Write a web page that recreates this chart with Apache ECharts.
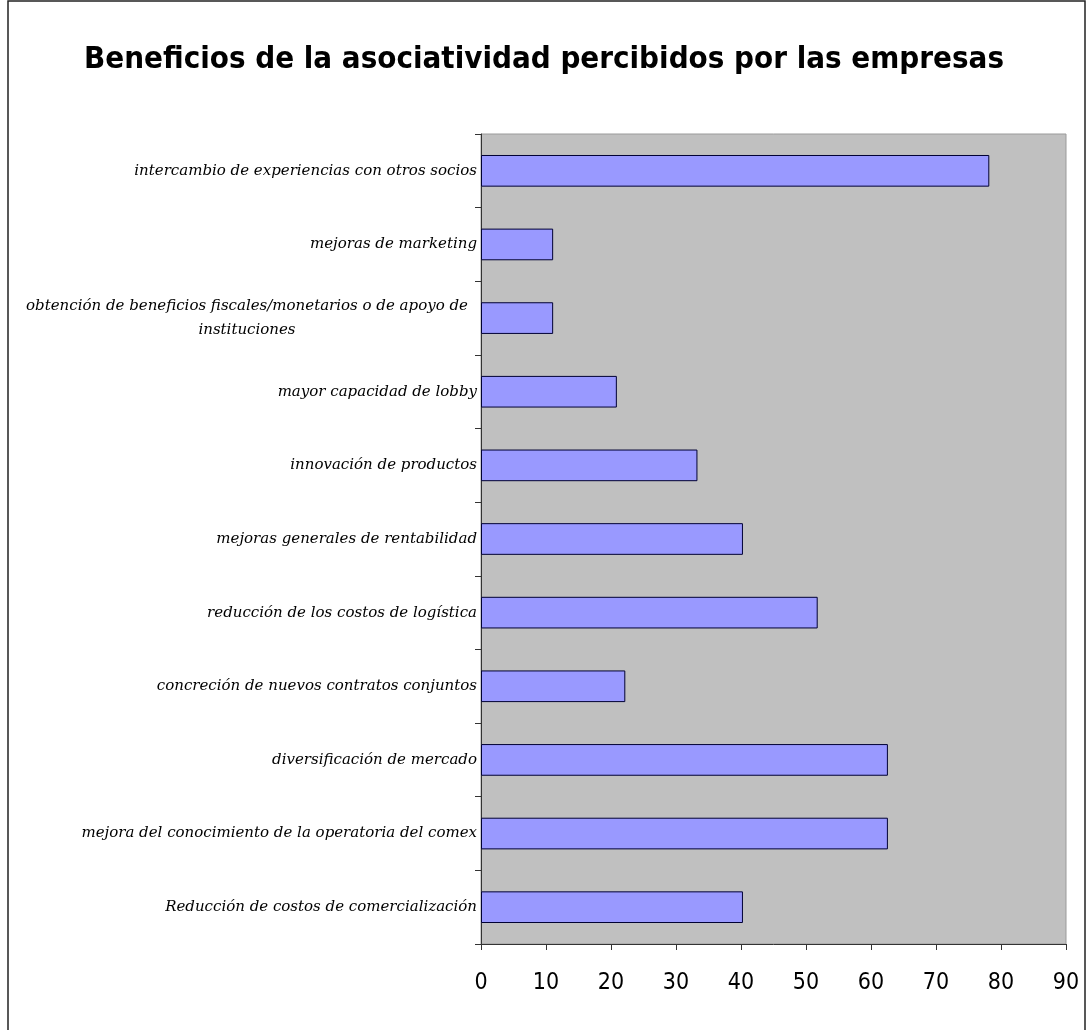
<!DOCTYPE html>
<html>
<head>
<meta charset="utf-8">
<title>Beneficios de la asociatividad</title>
<script src="https://cdn.jsdelivr.net/npm/echarts@6/dist/echarts.min.js"></script>
<style>
  html, body { margin: 0; padding: 0; background: #ffffff; }
  #chart { width: 1088px; height: 1030px; }
</style>
</head>
<body>
<div id="chart"></div>
<script>
// Benefits listed bottom to top, as in the source sheet
const categories = [
  'Reducción de costos de comercialización',
  'mejora del conocimiento de la operatoria del comex',
  'diversificación de mercado',
  'concreción de nuevos contratos conjuntos',
  'reducción de los costos de logística',
  'mejoras generales de rentabilidad',
  'innovación de productos',
  'mayor capacidad de lobby',
  'obtención de beneficios fiscales/monetarios o de apoyo de instituciones',
  'mejoras de marketing',
  'intercambio de experiencias con otros socios'
];

// Share of firms that perceive each benefit (%)
const values = [40.3, 62.6, 62.6, 22.2, 51.8, 40.3, 33.3, 20.9, 11.1, 11.1, 78.2];

const xTicks = [0, 10, 20, 30, 40, 50, 60, 70, 80, 90];

const titleText = 'Beneficios de la asociatividad percibidos por las empresas';

// Wrap long category names into lines of at most maxChars characters
function wrapWords(text, maxChars) {
  const words = text.split(' ');
  const lines = [];
  let cur = '';
  words.forEach(w => {
    if (cur && (cur + ' ' + w).length > maxChars) { lines.push(cur); cur = w; }
    else { cur = cur ? cur + ' ' + w : w; }
  });
  if (cur) lines.push(cur);
  return lines;
}

const chart = echarts.init(document.getElementById('chart'));

const labelFont = "'DejaVu Serif', 'Liberation Serif', serif";
const narrowFont = "'Liberation Sans Narrow', 'DejaVu Sans Condensed', 'Liberation Sans', Arial, sans-serif";

chart.setOption({
  backgroundColor: '#ffffff',
  animation: false,
  title: {
    text: titleText,
    left: 'center',
    top: 39,
    textStyle: {
      fontFamily: narrowFont,
      fontWeight: 'bold',
      fontSize: 31,
      color: '#000000'
    }
  },
  graphic: [{
    type: 'rect',
    silent: true,
    shape: { x: 8, y: 1, width: 1077, height: 1100 },
    style: { fill: 'none', stroke: '#222222', lineWidth: 1.5 }
  }],
  grid: {
    left: 481,
    right: 22,
    top: 134,
    bottom: 86,
    show: true,
    backgroundColor: '#c0c0c0',
    borderColor: '#9a9a9a',
    borderWidth: 1
  },
  xAxis: {
    type: 'value',
    min: 0,
    max: xTicks[xTicks.length - 1],
    interval: xTicks[1] - xTicks[0],
    splitLine: { show: false },
    axisLine: { show: true, lineStyle: { color: '#333333', width: 1 } },
    axisTick: { show: true, length: 6, lineStyle: { color: '#333333' } },
    axisLabel: {
      margin: 28,
      fontFamily: narrowFont,
      fontSize: 23,
      color: '#000000'
    }
  },
  yAxis: {
    type: 'category',
    data: categories,
    axisLine: { show: true, lineStyle: { color: '#333333', width: 1 } },
    axisTick: { show: true, length: 6, alignWithLabel: false, lineStyle: { color: '#333333' } },
    axisLabel: {
      margin: 4,
      fontFamily: labelFont,
      fontStyle: 'italic',
      fontSize: 15,
      color: '#000000',
      formatter: function (v) {
        const lines = wrapWords(v, 60);
        if (lines.length === 1) return v;
        return lines.map(l => '{m|' + l + '}').join('\n');
      },
      rich: {
        m: {
          width: 460,
          align: 'center',
          fontFamily: labelFont,
          fontStyle: 'italic',
          fontSize: 15,
          lineHeight: 24,
          color: '#000000'
        }
      }
    }
  },
  series: [{
    type: 'bar',
    data: values,
    barWidth: '43%',
    itemStyle: {
      color: '#9999ff',
      borderColor: '#000033',
      borderWidth: 1
    }
  }]
});
</script>
</body>
</html>
